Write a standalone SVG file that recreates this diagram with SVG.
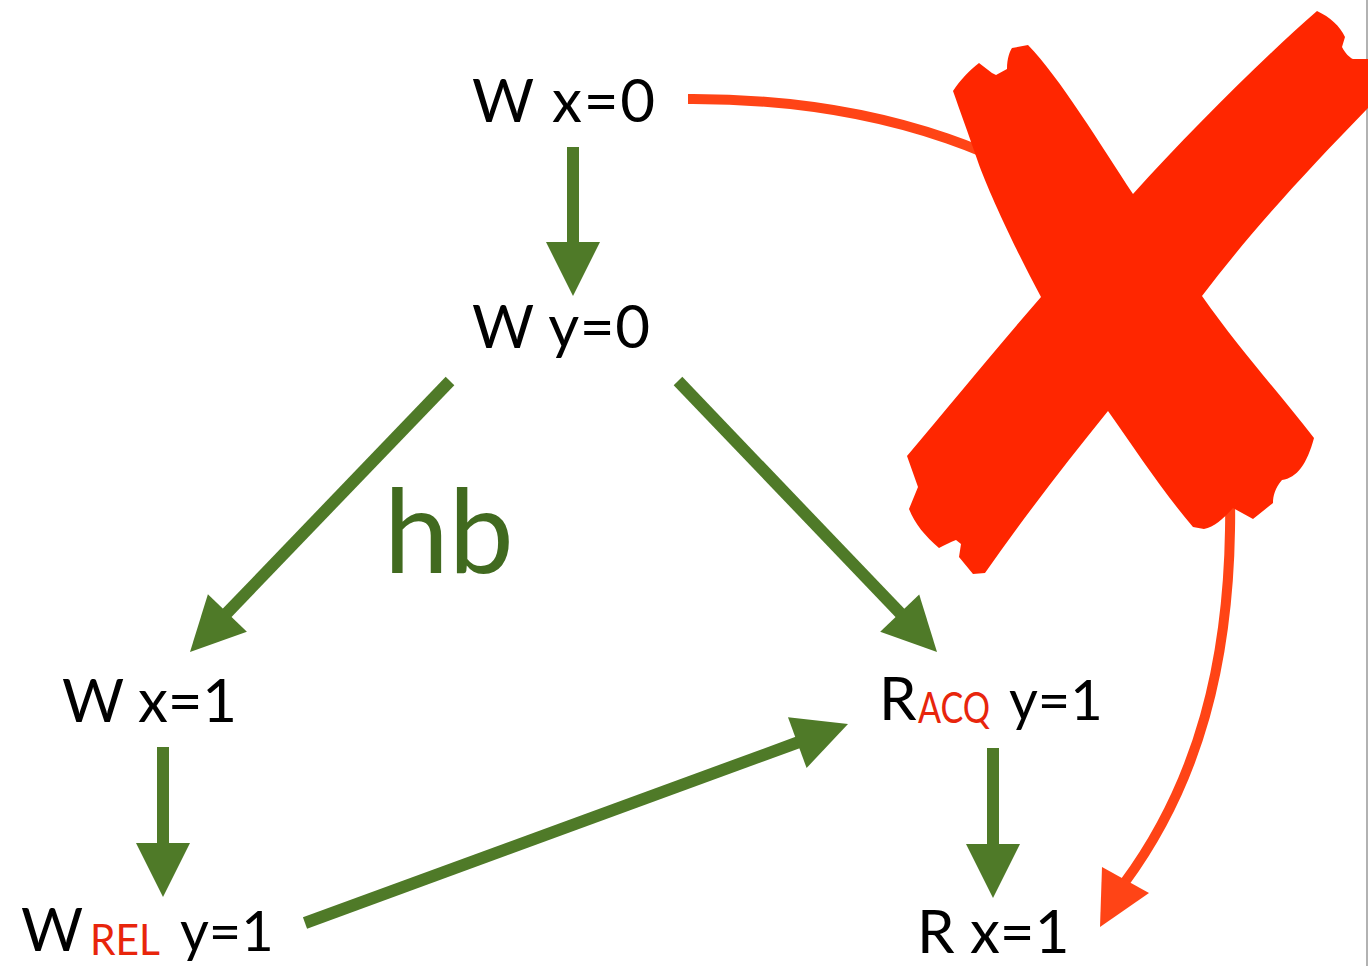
<svg xmlns="http://www.w3.org/2000/svg" width="1369" height="966" viewBox="0 0 1369 966">
<style>
.t{font-family:Lato,"Open Sans","Liberation Sans",sans-serif;font-size:60px;fill:#000}
.u{font-family:Lato,"Open Sans","Liberation Sans",sans-serif;font-size:56px;fill:#000}
.s{font-family:Lato,"Open Sans","Liberation Sans",sans-serif;font-size:42px;fill:#E8250C}
.g{stroke:#4F7A28;stroke-width:12;fill:none}
.gh{fill:#4F7A28}
</style>
<rect width="1369" height="966" fill="#fff"/>
<line x1="1367" y1="0" x2="1367" y2="966" stroke="#999" stroke-width="1.5"/>
<g id="connectors">
<line class="g" x1="573" y1="147" x2="573" y2="244"/>
<polygon class="gh" points="546,242 600,242 573,296"/>
<line class="g" x1="450" y1="381" x2="226" y2="614"/>
<polygon class="gh" points="246.9,631.7 207.9,594.3 190,652"/>
<line class="g" x1="678" y1="381" x2="901" y2="614"/>
<polygon class="gh" points="880.2,631.7 919.2,594.4 937,652"/>
<line class="g" x1="163" y1="747" x2="163" y2="845"/>
<polygon class="gh" points="136,843 190,843 163,897"/>
<line class="g" x1="993" y1="748" x2="993" y2="846"/>
<polygon class="gh" points="966,844 1020,844 993,898"/>
<line class="g" x1="305" y1="923" x2="799" y2="742"/>
<polygon class="gh" points="806.6,768 788,717.2 848,724"/>
<path d="M688,99 C880,98 1040,155 1130,250 C1220,345 1232,440 1230,530 C1228,660 1200,780 1125,882" fill="none" stroke="#FF4416" stroke-width="10"/>
<polygon points="1102,867 1149,893 1100,927" fill="#FF4416"/>
</g>
<g id="cross">
<path fill="#FF2600" d="M953,91 C960,80 970,70 979,63 L992,73 L996,75 L1007,69 C1007,58 1010,51 1012,48 L1028,45 C1060,78 1100,144 1133,194 C1190,131 1260,61 1317,11 C1330,17 1340,26 1345,37 L1342,47 C1345,53 1350,58 1353,59 L1368,59 L1368,108 C1300,178 1250,233 1202,296 C1240,350 1280,394 1314,438 C1307,464 1297,478 1282,480 C1275,488 1273,496 1273,503 L1253,519 L1233,508 C1223,519 1214,527 1204,529 L1193,527 C1160,488 1135,449 1108,411 C1065,464 1025,516 985,573 L973,574 L959,557 L961,544 L956,540 C950,542 945,545 939,548 C925,536 915,524 909,509 L918,487 L907,456 C950,405 995,350 1041,297 C1010,239 985,183 977,159 C968,133 960,111 953,91 Z"/>
</g>
<g id="n_wx0"><text class="t" x="472" y="122" textLength="183">W x=0</text></g>
<g id="n_wy0"><text class="t" x="472" y="348" textLength="178">W y=0</text></g>
<g id="n_wx1"><text class="t" x="62" y="722" textLength="175">W x=1</text></g>
<g id="n_racq">
<text class="t" x="879" y="720">R</text>
<text class="s" x="918" y="723" textLength="72" lengthAdjust="spacingAndGlyphs">ACQ</text>
<text class="u" x="1009" y="720">y=1</text>
</g>
<g id="n_wrel">
<text class="t" x="21" y="951">W</text>
<text class="s" x="90" y="955" textLength="70" lengthAdjust="spacingAndGlyphs">REL</text>
<text class="u" x="180" y="951">y=1</text>
</g>
<g id="n_rx1"><text class="t" x="917" y="953">R x=1</text></g>
<g id="hb"><text x="384" y="572" font-family="Lato,'Open Sans','Liberation Sans',sans-serif" font-size="116" fill="#416A1F">hb</text></g>
</svg>
